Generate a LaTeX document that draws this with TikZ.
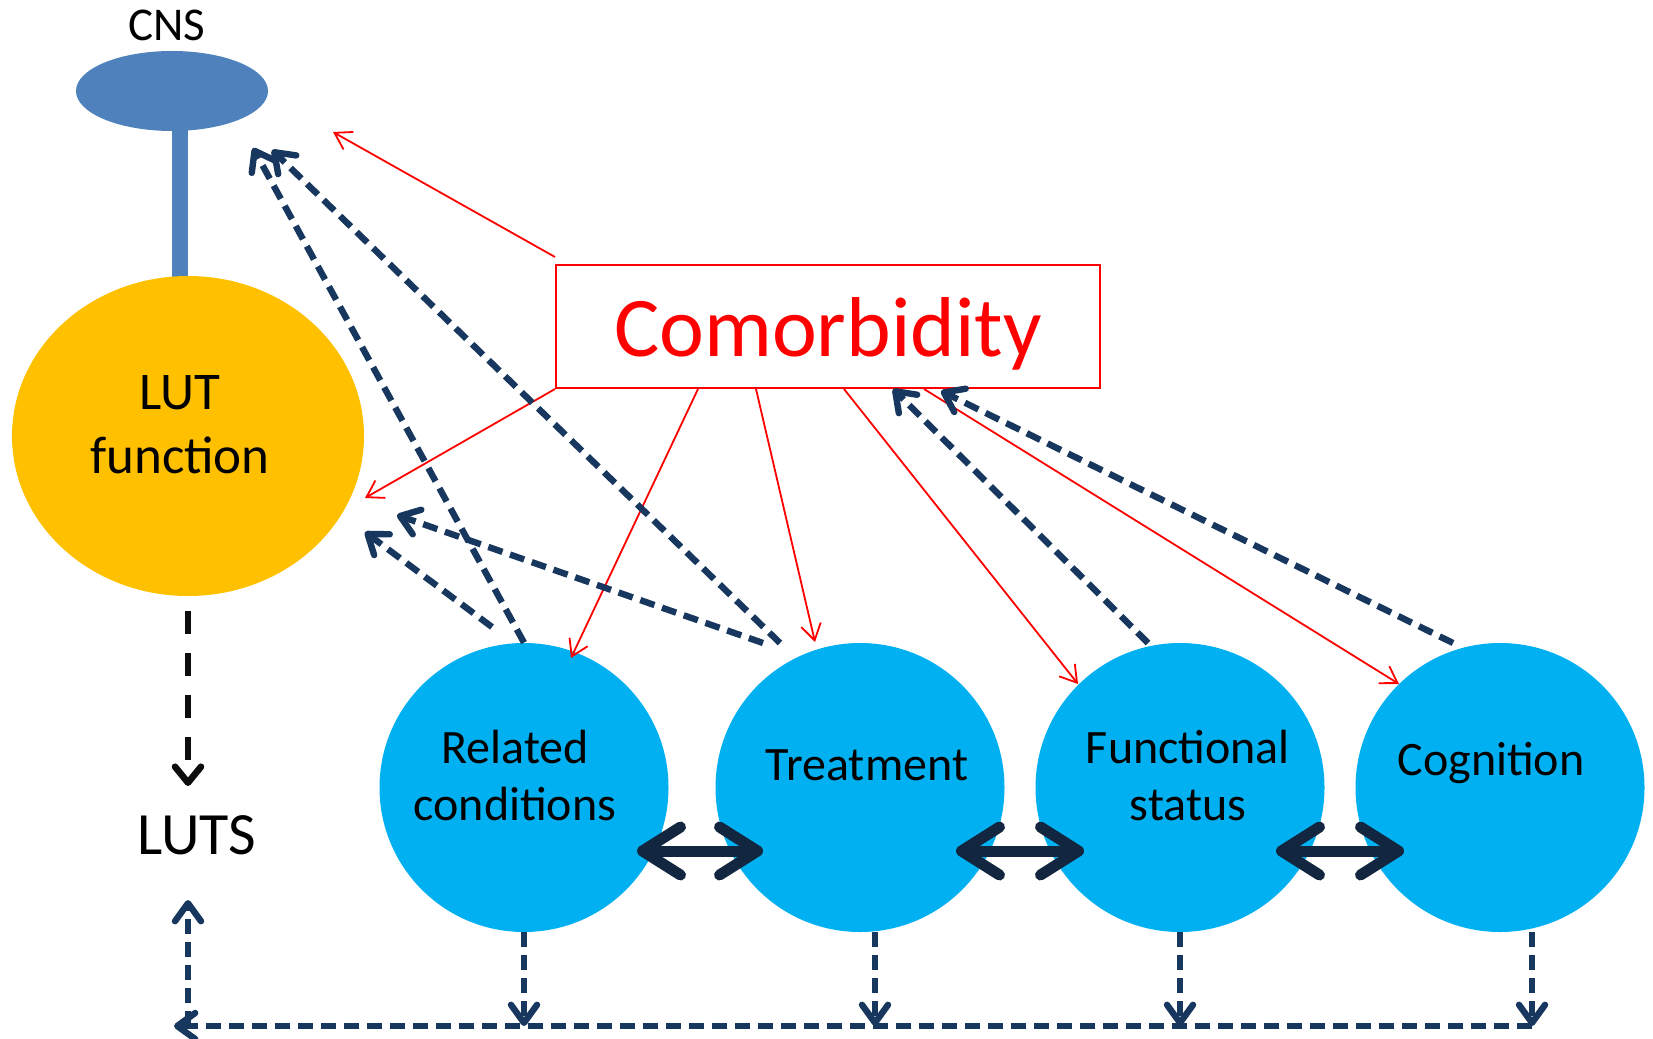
\documentclass[tikz,border=0pt]{standalone}
\usepackage{fontspec}
\setmainfont{Carlito}
\usetikzlibrary{arrows.meta,shapes.geometric,calc}
\definecolor{cnsblue}{HTML}{4F81BD}
\definecolor{lutorange}{HTML}{FFC000}
\definecolor{cyanblue}{HTML}{00B0F0}
\definecolor{navy}{HTML}{17375E}
\definecolor{darknavy}{HTML}{12263F}
\definecolor{compred}{HTML}{FF0000}
\begin{document}
\begin{tikzpicture}[x=0.5pt,y=-0.5pt,
  redarrow/.style={draw=compred, line width=0.9pt, -{Straight Barb[length=8pt,width=10pt]}},
  navyarrow/.style={draw=navy, line width=3.2pt, dash pattern=on 7.5pt off 4pt, -{Straight Barb[length=9pt,width=13pt,round]}},
  blackarrow/.style={draw=black!95, line width=3.3pt, dash pattern=on 11.5pt off 9.5pt, -{Straight Barb[length=8pt,width=13pt,round]}},
  dblarrow/.style={draw=darknavy, line width=5.5pt, {Straight Barb[length=19pt,width=24pt,round]}-{Straight Barb[length=19pt,width=24pt,round]}},
  bluecircle/.style={circle, fill=cyanblue, minimum size=144.5pt, inner sep=0pt},
  circtext/.style={align=center, font=\fontsize{24}{28.5}\selectfont},
]
\useasboundingbox (0,0) rectangle (1653,1038);

% CNS and stem
\fill[cnsblue] (172,128) rectangle (188,280);
\node[ellipse, fill=cnsblue, minimum width=96pt, minimum height=40pt, inner sep=0pt] (cns) at (172,91) {};
\node[font=\fontsize{23.5}{28}\selectfont] (cnslabel) at (167,25) {CNS};

% LUT function
\node[ellipse, fill=lutorange, minimum width=176pt, minimum height=160pt, inner sep=0pt] (lut) at (188,436) {};
\node[align=center, font=\fontsize{26.5}{32}\selectfont] (luttext) at (180,425) {LUT\\function};

% LUTS
\node[font=\fontsize{30}{36}\selectfont] (luts) at (197,835) {LUTS};

% Blue circles
\node[bluecircle] (rel) at (524,787.5) {};
\node[bluecircle] (treat) at (860,787.5) {};
\node[bluecircle] (func) at (1180,787.5) {};
\node[bluecircle] (cog) at (1500,787.5) {};
\node[circtext] (reltext) at (515,776) {Related\\conditions};
\node[circtext] (treattext) at (867,765) {Treatment};
\node[circtext] (functext) at (1188,776) {Functional\\status};
\node[circtext] (cogtext) at (1491,763) {Cognition};

% Comorbidity box
\node[draw=compred, line width=1pt, minimum width=272pt, minimum height=61.5pt, inner sep=0pt] (como) at (828,326.5) {};
\node[text=compred, font=\fontsize{42.5}{50}\selectfont] (comotext) at (828,334) {Comorbidity};

% coordinates
\coordinate (r1) at (333,132);
\coordinate (r2) at (365,498);
\coordinate (r3) at (571,658);
\coordinate (r4) at (815,642);
\coordinate (r5) at (1078,684);
\coordinate (r6) at (1399,684);

% red arrows
\draw[redarrow] ($(como.north west)+(0,-7)$) -- (r1);
\draw[redarrow] (como.south west) -- (r2);
\draw[redarrow] ($(como.south west)+(143,0)$) -- (r3);
\draw[redarrow] ($(como.south west)+(201,0)$) -- (r4);
\draw[redarrow] ($(como.south west)+(289,0)$) -- (r5);
\draw[redarrow] ($(como.south west)+(369,0)$) -- (r6);

% navy dashed arrows to CNS / LUT / comorbidity
\coordinate (ta) at (253,148);
\coordinate (tb) at (272,150);
\coordinate (tc) at (365,532);
\coordinate (td) at (397,515);
\coordinate (sb) at (780,643);
\coordinate (sc) at (492,627);
\coordinate (sd) at (763,643);
\coordinate (se) at (1148,643);
\coordinate (sf) at (1453,643);
\draw[navyarrow] (rel.north) -- (ta);
\draw[navyarrow] (sb) -- (tb);
\draw[navyarrow] (sc) -- (tc);
\draw[navyarrow] (sd) -- (td);
\draw[navyarrow] (se) -- ($(como.south west)+(338,0)$);
\draw[navyarrow] (sf) -- ($(como.south west)+(386,2)$);

% LUT -> LUTS
\coordinate (lutbot) at (188,611);
\coordinate (lutstop) at (188,786);
\draw[blackarrow] (lutbot) -- (lutstop);

% bottom collecting line
\coordinate (lcorner) at (188,1026);
\coordinate (lend) at (174,1026);
\coordinate (cogdown) at ($(cog.south)+(32,0)$);
\coordinate (treatdown) at ($(treat.south)+(15,0)$);
\draw[navyarrow] (cogdown |- lend) -- (lend);
\draw[navyarrow] (lcorner) -- (188,900);
\draw[navyarrow] (rel.south) -- (rel.south |- lend);
\draw[navyarrow] (treatdown) -- (treatdown |- lend);
\draw[navyarrow] (func.south) -- (func.south |- lend);
\draw[navyarrow] (cogdown) -- (cogdown |- lend);

% double arrows
\draw[dblarrow] (637,851) -- (763,851);
\draw[dblarrow] (956,851) -- (1084,851);
\draw[dblarrow] (1276,851) -- (1404,851);
\end{tikzpicture}
\end{document}
